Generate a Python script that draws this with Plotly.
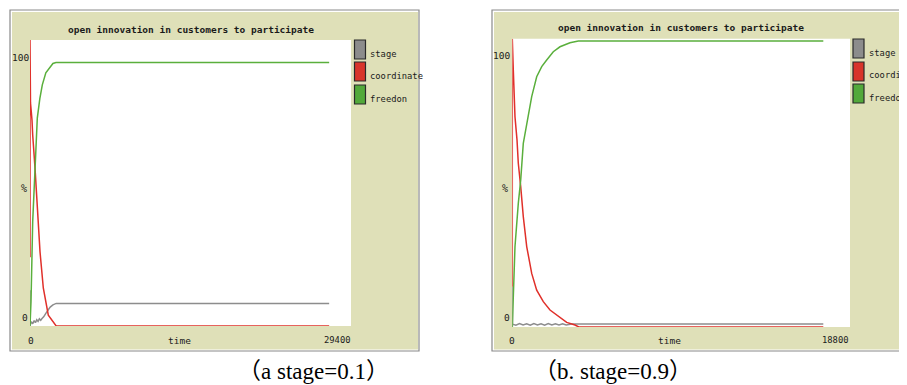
import plotly.graph_objects as go

# page is shown with the browser's default 8px body margin; figure is sized to fit
OFF = 8
W, H = 907 - OFF, 385 - OFF

# ---------------- data: panel (a) stage=0.1 ----------------
a_stage_t = [0, 0, 15, 120, 250, 380, 500, 620, 740, 860, 980, 1100, 1250, 1450, 1650, 1850, 2100, 2400, 27400]
a_stage_v = [0, 12.5, 0.3, 1.5, 0.8, 1.9, 1.2, 2.2, 1.6, 2.5, 2.0, 2.6, 3.2, 4.4, 5.5, 6.6, 7.4, 7.9, 7.9]
a_coord_t = [0, 0, 46, 183, 247, 458, 669, 916, 1218, 1676, 2381, 27400]
a_coord_v = [24, 100, 78, 72, 66.8, 55.3, 43.5, 26, 13.3, 3.8, 0.1, 0]
a_free_t = [0, 92, 247, 350, 458, 669, 900, 1127, 1450, 1832, 2100, 2381, 27400]
a_free_v = [0, 8.5, 36.5, 47, 55.2, 72.7, 79.5, 84.3, 88.5, 90.7, 91.8, 92.1, 92.1]
a_xmax = 29400

# ---------------- data: panel (b) stage=0.9 ----------------
b_stage_t = [0, 0, 10, 200, 400, 600, 800, 1000, 1200, 1400, 1600, 1800, 2000, 2200, 2400, 2600, 2800, 3000, 3300, 3700, 17314]
b_stage_v = [0, 14, 1.0, 0.6, 1.2, 0.7, 1.1, 0.6, 1.2, 0.7, 1.1, 0.6, 1.2, 0.7, 1.1, 0.7, 1.1, 0.7, 1.0, 1.0, 1.0]
b_coord_t = [0, 0, 56, 95, 150, 262, 334, 468, 612, 802, 1080, 1358, 1726, 2099, 2561, 3028, 3490, 3700, 17314]
b_coord_v = [14, 100, 89.1, 79.9, 72.9, 64.9, 56.8, 48.7, 38.3, 27.9, 18.6, 12.8, 8.8, 5.9, 3.6, 1.6, 0.7, 0, 0]
b_free_t = [0, 20, 56, 150, 334, 468, 612, 802, 1080, 1358, 1637, 1915, 2282, 2655, 3212, 3674, 17314]
b_free_v = [0, 5, 14, 27.9, 42.9, 51, 63.7, 70.7, 79.9, 86.8, 90.3, 92.6, 95.5, 97.2, 98.6, 99.2, 99.2]
b_xmax = 18800

series_names = ["stage", "coordinate", "freedon"]
series_colors = ["#8d8d8d", "#e0302a", "#5aaf3c"]
swatch_colors = ["#8c8c8c", "#d8352b", "#52a93a"]
title_text = "open innovation in customers to participate"
captions = ["（a stage=0.1）", "（b. stage=0.9）"]


def px(x):
    return (x - OFF) / W


def py(y):
    return 1 - (y - OFF) / H


fig = go.Figure()

panels = [
    dict(xa="x", ya="y", t=[a_stage_t, a_coord_t, a_free_t], v=[a_stage_v, a_coord_v, a_free_v]),
    dict(xa="x2", ya="y2", t=[b_stage_t, b_coord_t, b_free_t], v=[b_stage_v, b_coord_v, b_free_v]),
]
for p in panels:
    for name, col, tt, vv in zip(series_names, series_colors, p["t"], p["v"]):
        fig.add_trace(go.Scatter(x=tt, y=vv, mode="lines", name=name, showlegend=False,
                                 line=dict(color=col, width=1.5), xaxis=p["xa"], yaxis=p["ya"],
                                 hoverinfo="skip"))

# plot area geometry in page pixels
L = dict(x0=30, x1=351, y0=40, y1=326)
R = dict(x0=512.3, x1=850, y0=38.7, y1=327)

ax_common = dict(showgrid=False, zeroline=False, showline=False, showticklabels=False, ticks="", fixedrange=True)
fig.update_layout(
    xaxis=dict(domain=[px(L["x0"]), px(L["x1"])], range=[0, a_xmax], anchor="y", **ax_common),
    yaxis=dict(domain=[py(L["y1"]), py(L["y0"])], range=[0, 100], anchor="x", **ax_common),
    xaxis2=dict(domain=[px(R["x0"]), min(1, px(R["x1"]))], range=[0, b_xmax], anchor="y2", **ax_common),
    yaxis2=dict(domain=[py(R["y1"]), py(R["y0"])], range=[0, 100], anchor="x2", **ax_common),
)

BEIGE = "#dfe0b8"
shapes = []
# panel frames
for (fx0, fy0, fx1, fy1) in [(10, 10, 419, 351), (492, 10, 930, 351)]:
    shapes.append(dict(type="rect", xref="paper", yref="paper", x0=px(fx0), x1=px(fx1), y0=py(fy1), y1=py(fy0),
                       fillcolor="#ffffff", line=dict(color="#8a8a8a", width=1.2), layer="below"))
    shapes.append(dict(type="rect", xref="paper", yref="paper", x0=px(fx0 + 2), x1=px(fx1 - 1), y0=py(fy1 - 1.5), y1=py(fy0 + 2),
                       fillcolor=BEIGE, line=dict(width=0), layer="below"))
for g in (L, R):
    shapes.append(dict(type="rect", xref="paper", yref="paper", x0=px(g["x0"]), x1=px(g["x1"]), y0=py(g["y1"]), y1=py(g["y0"]),
                       fillcolor="#ffffff", line=dict(width=0), layer="below"))
# legend swatches
for sx, tops in [(354.5, [40, 62, 85]), (853, [39, 62, 84])]:
    for top, c in zip(tops, swatch_colors):
        shapes.append(dict(type="rect", xref="paper", yref="paper", x0=px(sx), x1=px(sx + 11), y0=py(top + 19), y1=py(top),
                           fillcolor=c, line=dict(color="#2a2a2a", width=1.2), layer="above"))

MONO = "DejaVu Sans Mono, Liberation Mono, monospace"
ann = []


def text(x, y, s, size=8.5, xanchor="center", family=MONO, color="#1a1a1a", bold=False):
    ann.append(dict(x=px(x), y=py(y), xref="paper", yref="paper", text=("<b>%s</b>" % s) if bold else s,
                    showarrow=False, xanchor=xanchor, yanchor="middle",
                    font=dict(family=family, size=size, color=color)))


# panel (a) texts
text(190.5, 29, title_text, size=9.5, bold=True)
text(20.5, 58, "100", size=9.5)
text(23.5, 189, "%", size=10)
text(25, 317, "0", size=9.5)
text(30.7, 340, "0", size=9.5)
text(179, 340, "time", size=9.5)
text(337, 340, "29400", size=8.8)
for y, n in zip([54, 76, 99], series_names):
    text(367.5, y, n, size=8.8, xanchor="left")

# panel (b) texts
text(681, 28, title_text, size=9.5, bold=True)
text(501.7, 56, "100", size=9.5)
text(505, 188, "%", size=10)
text(506.7, 317, "0", size=9.5)
text(512.3, 340, "0", size=9.5)
text(669, 340, "time", size=9.5)
text(835, 340, "18800", size=8.8)
for y, n in zip([53, 75, 98], series_names):
    text(867, y, n, size=8.8, xanchor="left")

# captions
SERIF = "Liberation Serif, Times New Roman, Noto Sans CJK SC, serif"
text(313, 371, captions[0], size=23, family=SERIF, color="#000000")
text(612.5, 371, captions[1], size=23, family=SERIF, color="#000000")

fig.update_layout(
    width=W, height=H, margin=dict(l=0, r=0, t=0, b=0),
    paper_bgcolor="#ffffff", plot_bgcolor="#ffffff",
    shapes=shapes, annotations=ann, showlegend=False,
)

fig.write_html("out.html")
